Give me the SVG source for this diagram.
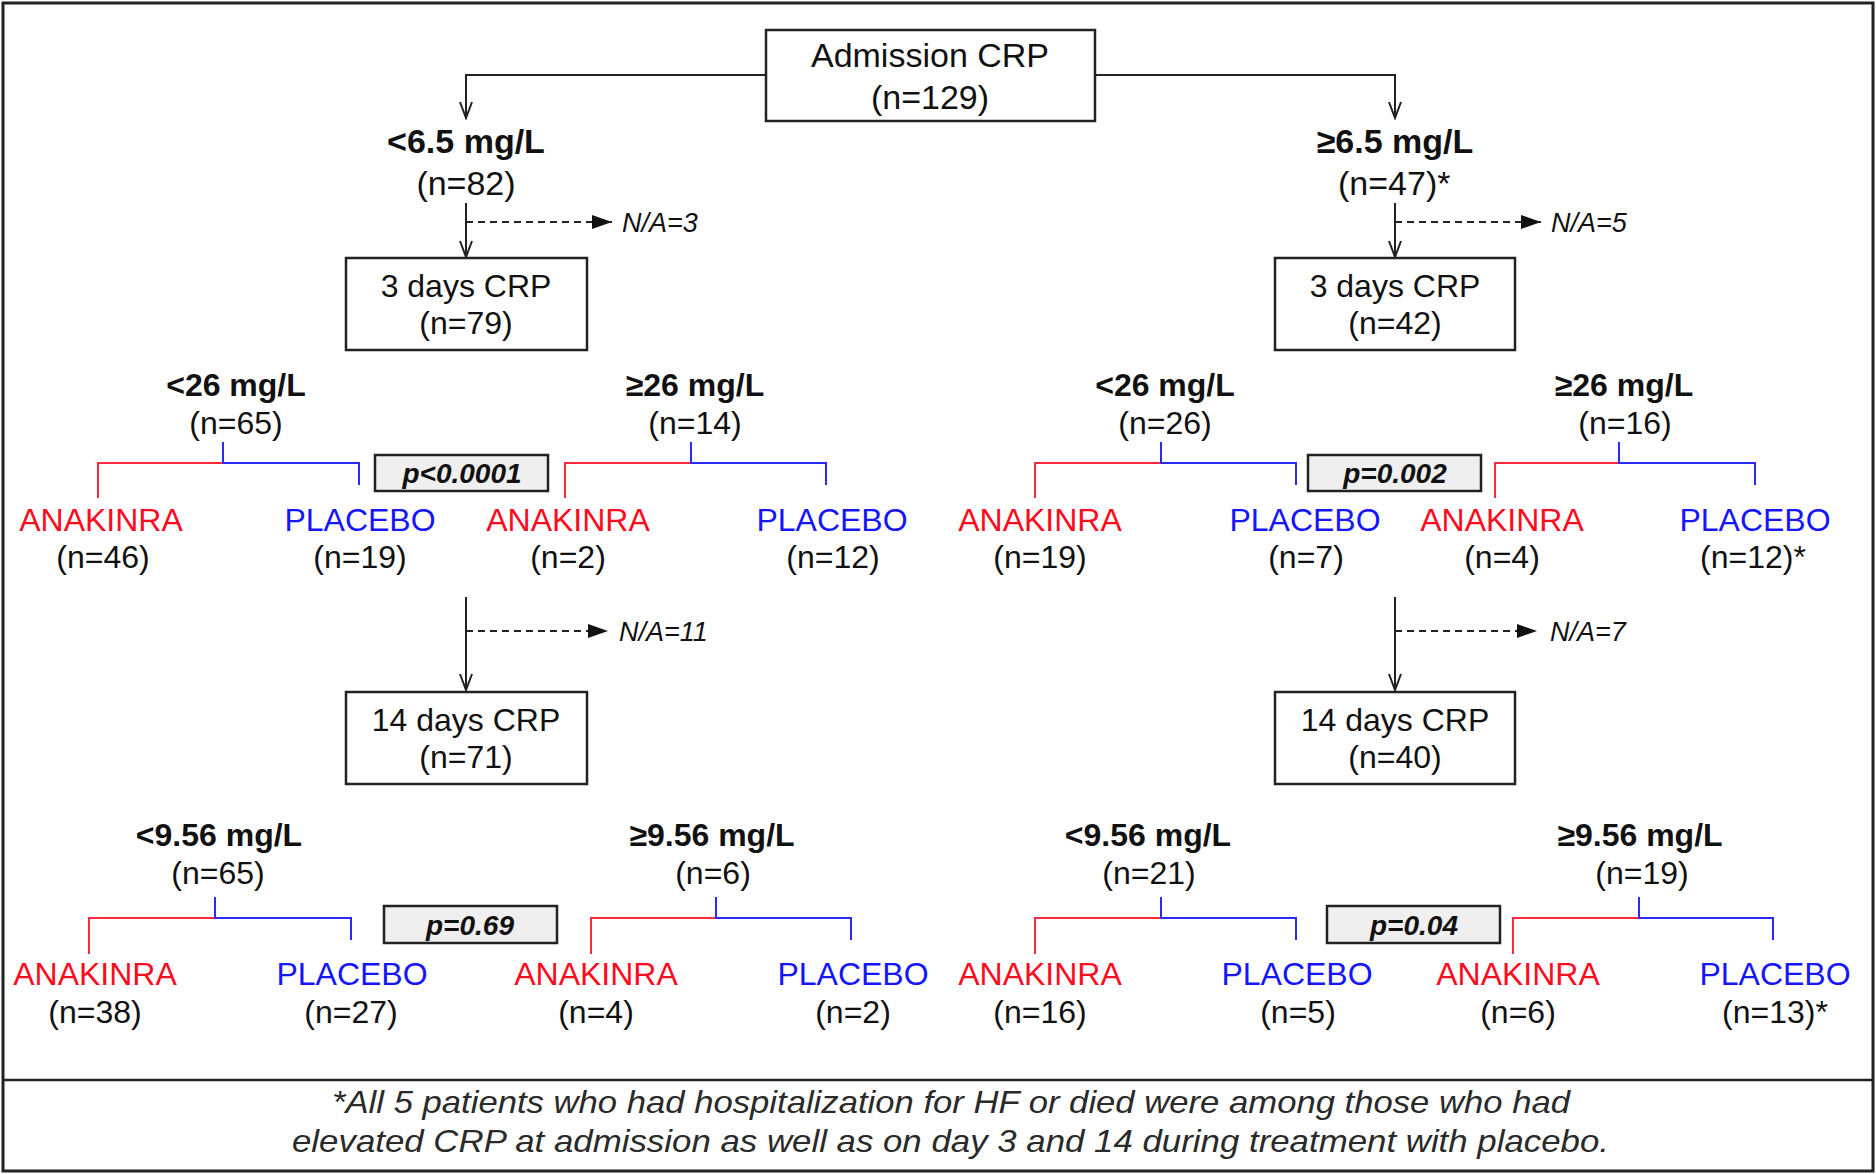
<svg xmlns="http://www.w3.org/2000/svg" width="1876" height="1174" viewBox="0 0 1876 1174">
<style>
text{font-family:"Liberation Sans",Arial,Helvetica,sans-serif;fill:#111}
.bx{fill:#fff;stroke:#222;stroke-width:2.5}
.pb{fill:#efefef;stroke:#222;stroke-width:2.5}
.t34{font-size:34px;text-anchor:middle}
.t32{font-size:32px;text-anchor:middle}
.b34{font-size:34px;font-weight:bold;text-anchor:middle}
.b32{font-size:32px;font-weight:bold;text-anchor:middle}
.na{font-size:27px;font-style:italic}
.pv{font-size:28px;font-weight:bold;font-style:italic;text-anchor:middle}
.an{font-size:32px;text-anchor:middle;fill:#ff0a1e}
.pl{font-size:32px;text-anchor:middle;fill:#1515ff}
.ft{font-size:32px;font-style:italic;fill:#2a2a2a}
.ln{fill:none;stroke:#222;stroke-width:2}
.dl{fill:none;stroke:#222;stroke-width:2;stroke-dasharray:7 5}
.rd{fill:none;stroke:#ff2a3a;stroke-width:2}
.bl{fill:none;stroke:#2a2aff;stroke-width:2}
</style>
<defs>
<marker id="open" markerWidth="16" markerHeight="20" refX="8" refY="18" orient="0" markerUnits="userSpaceOnUse" viewBox="0 0 16 20">
<path d="M2 2 L8 18 L14 2" fill="none" stroke="#222" stroke-width="2"/>
</marker>
<marker id="tri" markerWidth="22" markerHeight="14" refX="20" refY="7" orient="auto" markerUnits="userSpaceOnUse" viewBox="0 0 22 14">
<path d="M0 0 L20 7 L0 14 Z" fill="#111"/>
</marker>
</defs>
<rect x="3" y="3" width="1870" height="1168" fill="#fff" stroke="#222" stroke-width="3"/>
<line x1="3" y1="1080" x2="1873" y2="1080" stroke="#222" stroke-width="2.5"/>

<g id="connectors">
<path class="ln" d="M766 75 H466 V118" marker-end="url(#open)"/>
<path class="ln" d="M1095 75 H1395 V118" marker-end="url(#open)"/>
<path class="ln" d="M466 203 V257" marker-end="url(#open)"/>
<path class="dl" d="M466 222 H612" marker-end="url(#tri)"/>
<path class="ln" d="M1395 203 V257" marker-end="url(#open)"/>
<path class="dl" d="M1395 222 H1541" marker-end="url(#tri)"/>
<path class="ln" d="M466 597 V690" marker-end="url(#open)"/>
<path class="dl" d="M466 631 H608" marker-end="url(#tri)"/>
<path class="ln" d="M1395 597 V690" marker-end="url(#open)"/>
<path class="dl" d="M1395 631 H1537" marker-end="url(#tri)"/>
<path class="rd" d="M223 463 H98 V498"/><path class="bl" d="M223 442 V463 H359 V485"/>
<path class="rd" d="M691 463 H565 V498"/><path class="bl" d="M691 442 V463 H826 V485"/>
<path class="rd" d="M1161 463 H1035 V498"/><path class="bl" d="M1161 442 V463 H1296 V485"/>
<path class="rd" d="M1619 463 H1495 V498"/><path class="bl" d="M1619 442 V463 H1755 V485"/>
<path class="rd" d="M215 918 H89 V954"/><path class="bl" d="M215 897 V918 H351 V940"/>
<path class="rd" d="M716 918 H591 V954"/><path class="bl" d="M716 897 V918 H851 V940"/>
<path class="rd" d="M1161 918 H1035 V954"/><path class="bl" d="M1161 897 V918 H1296 V940"/>
<path class="rd" d="M1639 918 H1513 V954"/><path class="bl" d="M1639 897 V918 H1773 V940"/>
</g>

<g id="admission"><rect class="bx" x="766" y="30" width="329" height="91"/>
<text class="t34" x="930" y="67">Admission CRP</text><text class="t34" x="930" y="109">(n=129)</text></g>

<g id="adm-low"><text class="b34" x="466" y="153">&lt;6.5 mg/L</text><text class="t34" x="466" y="195">(n=82)</text></g>
<g id="adm-high"><text class="b34" x="1395" y="153">≥6.5 mg/L</text><text style="font-size:34px" x="1338" y="195">(n=47)*</text></g>
<g id="na3"><text class="na" x="622" y="232">N/A=3</text></g>
<g id="na5"><text class="na" x="1551" y="232">N/A=5</text></g>

<g id="day3-left"><rect class="bx" x="346" y="258" width="241" height="92"/>
<text class="t32" x="466" y="297">3 days CRP</text><text class="t32" x="466" y="334">(n=79)</text></g>
<g id="day3-right"><rect class="bx" x="1275" y="258" width="240" height="92"/>
<text class="t32" x="1395" y="297">3 days CRP</text><text class="t32" x="1395" y="334">(n=42)</text></g>

<g id="d3-ll"><text class="b32" x="236" y="396">&lt;26 mg/L</text><text class="t32" x="236" y="434">(n=65)</text></g>
<g id="d3-lh"><text class="b32" x="695" y="396">≥26 mg/L</text><text class="t32" x="695" y="434">(n=14)</text></g>
<g id="d3-rl"><text class="b32" x="1165" y="396">&lt;26 mg/L</text><text class="t32" x="1165" y="434">(n=26)</text></g>
<g id="d3-rh"><text class="b32" x="1624" y="396">≥26 mg/L</text><text class="t32" x="1625" y="434">(n=16)</text></g>

<g id="p1"><rect class="pb" x="375" y="455" width="173" height="36"/><text class="pv" x="462" y="483">p&lt;0.0001</text></g>
<g id="p2"><rect class="pb" x="1308" y="455" width="173" height="36"/><text class="pv" x="1395" y="483">p=0.002</text></g>

<g id="l1"><text class="an" x="101" y="531">ANAKINRA</text><text class="t32" x="103" y="568">(n=46)</text></g>
<g id="l2"><text class="pl" x="360" y="531">PLACEBO</text><text class="t32" x="360" y="568">(n=19)</text></g>
<g id="l3"><text class="an" x="568" y="531">ANAKINRA</text><text class="t32" x="568" y="568">(n=2)</text></g>
<g id="l4"><text class="pl" x="832" y="531">PLACEBO</text><text class="t32" x="833" y="568">(n=12)</text></g>
<g id="l5"><text class="an" x="1040" y="531">ANAKINRA</text><text class="t32" x="1040" y="568">(n=19)</text></g>
<g id="l6"><text class="pl" x="1305" y="531">PLACEBO</text><text class="t32" x="1306" y="568">(n=7)</text></g>
<g id="l7"><text class="an" x="1502" y="531">ANAKINRA</text><text class="t32" x="1502" y="568">(n=4)</text></g>
<g id="l8"><text class="pl" x="1755" y="531">PLACEBO</text><text style="font-size:32px" x="1700" y="568">(n=12)*</text></g>

<g id="na11"><text class="na" x="619" y="641">N/A=11</text></g>
<g id="na7"><text class="na" x="1550" y="641">N/A=7</text></g>

<g id="day14-left"><rect class="bx" x="346" y="692" width="241" height="92"/>
<text class="t32" x="466" y="731">14 days CRP</text><text class="t32" x="466" y="768">(n=71)</text></g>
<g id="day14-right"><rect class="bx" x="1275" y="692" width="240" height="92"/>
<text class="t32" x="1395" y="731">14 days CRP</text><text class="t32" x="1395" y="768">(n=40)</text></g>

<g id="d14-ll"><text class="b32" x="219" y="846">&lt;9.56 mg/L</text><text class="t32" x="218" y="884">(n=65)</text></g>
<g id="d14-lh"><text class="b32" x="712" y="846">≥9.56 mg/L</text><text class="t32" x="713" y="884">(n=6)</text></g>
<g id="d14-rl"><text class="b32" x="1148" y="846">&lt;9.56 mg/L</text><text class="t32" x="1149" y="884">(n=21)</text></g>
<g id="d14-rh"><text class="b32" x="1640" y="846">≥9.56 mg/L</text><text class="t32" x="1642" y="884">(n=19)</text></g>

<g id="p3"><rect class="pb" x="384" y="906" width="173" height="37"/><text class="pv" x="470" y="935">p=0.69</text></g>
<g id="p4"><rect class="pb" x="1327" y="906" width="173" height="37"/><text class="pv" x="1414" y="935">p=0.04</text></g>

<g id="m1"><text class="an" x="95" y="985">ANAKINRA</text><text class="t32" x="95" y="1023">(n=38)</text></g>
<g id="m2"><text class="pl" x="352" y="985">PLACEBO</text><text class="t32" x="351" y="1023">(n=27)</text></g>
<g id="m3"><text class="an" x="596" y="985">ANAKINRA</text><text class="t32" x="596" y="1023">(n=4)</text></g>
<g id="m4"><text class="pl" x="853" y="985">PLACEBO</text><text class="t32" x="853" y="1023">(n=2)</text></g>
<g id="m5"><text class="an" x="1040" y="985">ANAKINRA</text><text class="t32" x="1040" y="1023">(n=16)</text></g>
<g id="m6"><text class="pl" x="1297" y="985">PLACEBO</text><text class="t32" x="1298" y="1023">(n=5)</text></g>
<g id="m7"><text class="an" x="1518" y="985">ANAKINRA</text><text class="t32" x="1518" y="1023">(n=6)</text></g>
<g id="m8"><text class="pl" x="1775" y="985">PLACEBO</text><text style="font-size:32px" x="1722" y="1023">(n=13)*</text></g>

<g id="footer">
<text class="ft" x="332" y="1113" textLength="1238" lengthAdjust="spacingAndGlyphs">*All 5 patients who had hospitalization for HF or died were among those who had</text>
<text class="ft" x="292" y="1152" textLength="1317" lengthAdjust="spacingAndGlyphs">elevated CRP at admission as well as on day 3 and 14 during treatment with placebo.</text>
</g>
</svg>
